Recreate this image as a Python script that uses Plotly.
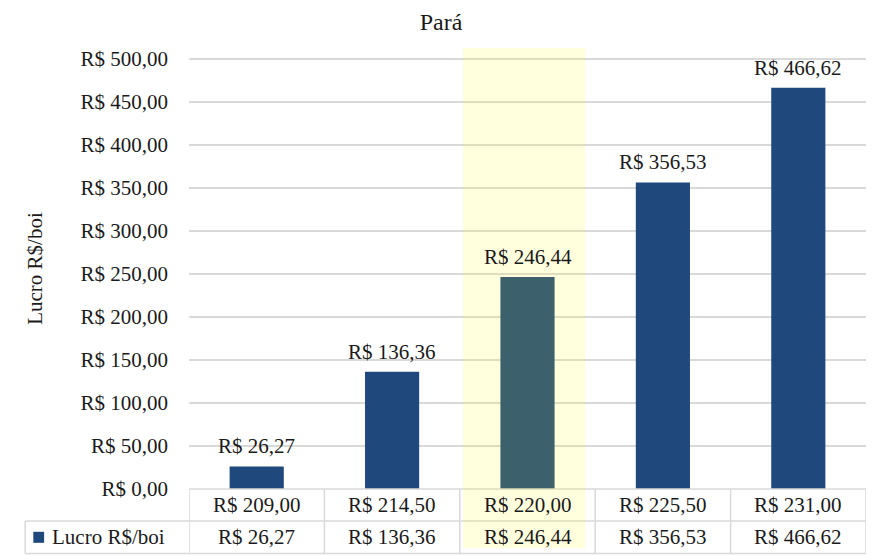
import plotly.graph_objects as go

# Preço (R$/@) por cenário e lucro correspondente (R$/boi)
categorias = ["R$ 209,00", "R$ 214,50", "R$ 220,00", "R$ 225,50", "R$ 231,00"]
lucro = [26.27, 136.36, 246.44, 356.53, 466.62]
rotulos_lucro = ["R$ 26,27", "R$ 136,36", "R$ 246,44", "R$ 356,53", "R$ 466,62"]
ticks_y = [0, 50, 100, 150, 200, 250, 300, 350, 400, 450, 500]
ticks_y_txt = ["R$ 0,00", "R$ 50,00", "R$ 100,00", "R$ 150,00", "R$ 200,00",
               "R$ 250,00", "R$ 300,00", "R$ 350,00", "R$ 400,00", "R$ 450,00",
               "R$ 500,00"]
serie = "Lucro R$/boi"
destaque = 2  # cenário em destaque

FONTE = "Liberation Serif"
AZUL = "#1f497d"
GRADE = "#d9d9d9"
TEXTO = "#1a1a1a"
TAM = 21

idx = list(range(len(categorias)))
n = len(categorias)

fig = go.Figure()
fig.add_trace(go.Bar(
    x=idx, y=lucro, width=0.4,
    marker=dict(color=AZUL, line=dict(width=0)),
    showlegend=False, hoverinfo="skip",
))

annotations = []
# rótulos de valor acima das barras
for i, (v, r) in enumerate(zip(lucro, rotulos_lucro)):
    annotations.append(dict(x=i, y=v, xref="x", yref="y", text=r, showarrow=False,
                            xanchor="center", yanchor="bottom", yshift=6,
                            font=dict(family=FONTE, size=TAM, color=TEXTO)))

# tabela de dados abaixo do eixo
row1_bot = -0.0726
row2_bot = -0.1465
leg_left = -0.242
linha = dict(color=GRADE, width=1.5)
shapes = []
shapes.append(dict(type="line", xref="x", yref="paper", x0=-0.5, x1=n - 0.5,
                   y0=0, y1=0, line=linha))
for yb in (row1_bot, row2_bot):
    shapes.append(dict(type="line", xref="x", yref="paper", x0=-0.5, x1=n - 0.5,
                       y0=yb, y1=yb, line=linha))
for k in range(n + 1):
    shapes.append(dict(type="line", xref="x", yref="paper", x0=k - 0.5, x1=k - 0.5,
                       y0=0, y1=row2_bot, line=linha))
# célula da legenda
shapes.append(dict(type="line", xref="paper", yref="paper", x0=leg_left, x1=0,
                   y0=row1_bot, y1=row1_bot, line=linha))
shapes.append(dict(type="line", xref="paper", yref="paper", x0=leg_left, x1=0,
                   y0=row2_bot, y1=row2_bot, line=linha))
shapes.append(dict(type="line", xref="paper", yref="paper", x0=leg_left, x1=leg_left,
                   y0=row1_bot, y1=row2_bot, line=linha))
ymid2 = (row1_bot + row2_bot) / 2
shapes.append(dict(type="rect", xref="paper", yref="paper",
                   x0=leg_left + 0.012, x1=leg_left + 0.028,
                   y0=ymid2 - 0.0125, y1=ymid2 + 0.0125,
                   fillcolor=AZUL, line=dict(width=0)))

for i, (c, r) in enumerate(zip(categorias, rotulos_lucro)):
    annotations.append(dict(x=i, y=row1_bot / 2, xref="x", yref="paper", text=c,
                            showarrow=False, xanchor="center", yanchor="middle",
                            font=dict(family=FONTE, size=TAM, color=TEXTO)))
    annotations.append(dict(x=i, y=ymid2, xref="x", yref="paper", text=r,
                            showarrow=False, xanchor="center", yanchor="middle",
                            font=dict(family=FONTE, size=TAM, color=TEXTO)))
annotations.append(dict(x=leg_left + 0.036, y=ymid2, xref="paper", yref="paper",
                        text=serie, showarrow=False, xanchor="left", yanchor="middle",
                        font=dict(family=FONTE, size=TAM, color=TEXTO)))

# faixa de destaque sobreposta
shapes.append(dict(type="rect", xref="x", yref="paper",
                   x0=destaque - 0.475, x1=destaque + 0.425, y0=row2_bot + 0.012, y1=1,
                   fillcolor="rgba(255,255,0,0.13)", line=dict(width=0), layer="above"))

fig.update_layout(
    width=876, height=556,
    margin=dict(l=189, r=10, t=48, b=67),
    paper_bgcolor="white", plot_bgcolor="white",
    title=dict(text="Pará", x=0.5035, xref="container", xanchor="center",
               y=1 - 22 / 556, yanchor="middle", yref="container",
               font=dict(family=FONTE, size=24, color=TEXTO)),
    xaxis=dict(range=[-0.5, n - 0.5], showticklabels=False, showgrid=False,
               zeroline=False, showline=False, fixedrange=True),
    yaxis=dict(range=[0, 512.8], tickvals=ticks_y, ticktext=ticks_y_txt,
               showgrid=True, gridcolor=GRADE, gridwidth=1.5, zeroline=False,
               showline=False, ticks="", ticklabelstandoff=20,
               tickfont=dict(family=FONTE, size=TAM, color=TEXTO),
               title=dict(text=serie, standoff=32,
                          font=dict(family=FONTE, size=21, color=TEXTO))),
    shapes=shapes, annotations=annotations,
)

fig.write_html("out.html")
